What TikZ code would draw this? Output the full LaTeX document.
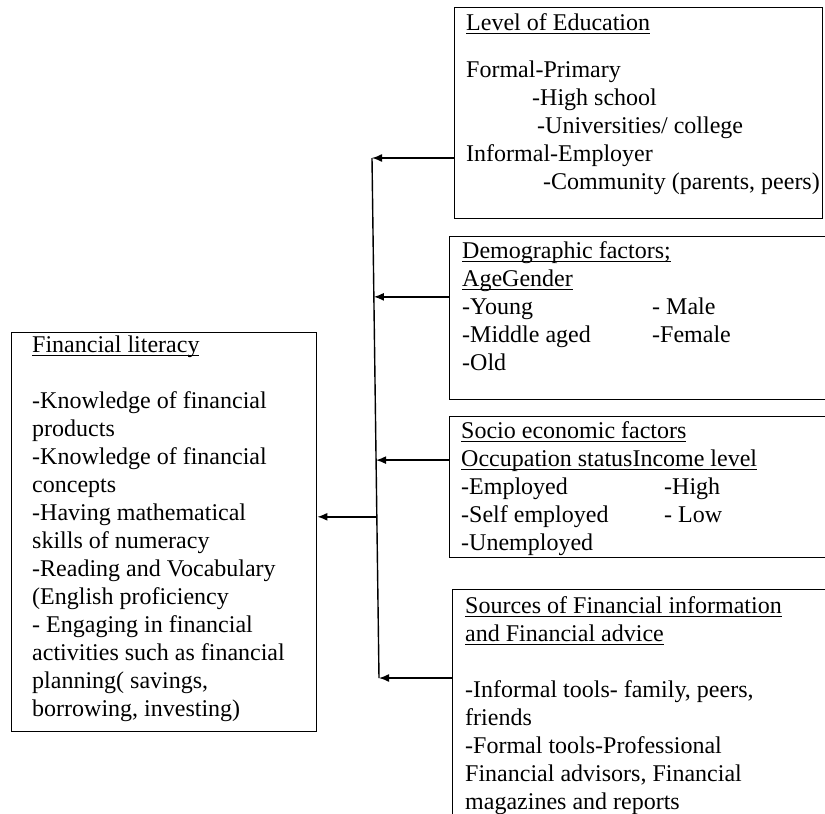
\documentclass[tikz,border=0pt]{standalone}
\usepackage{fontspec}
\setmainfont{Liberation Serif}
\usetikzlibrary{arrows.meta,calc}
\newcommand\hdr[1]{\setbox0\hbox{#1}\rlap{\rule[-3.5pt]{\wd0}{1.1pt}}\box0}
\tikzset{
  >={Latex[length=10pt,width=8pt]},
  box/.style={draw,line width=1.4pt,anchor=north west,inner sep=0pt},
  txt/.style={anchor=north west,inner sep=0pt,align=left,
    font=\fontsize{24}{28}\selectfont},
  link/.style={->,line width=1.4pt}
}
\begin{document}
\begin{tikzpicture}[x=1pt,y=-1pt]
	\useasboundingbox (0,0) rectangle (825,814);

	% the boxes
	\node[box,minimum width=368pt,minimum height=211pt] (edu) at (454,7) {};
	\node[box,minimum width=381pt,minimum height=163pt] (demo) at (449,236) {};
	\node[box,minimum width=381pt,minimum height=141pt] (socio) at (449,416) {};
	\node[box,minimum width=378pt,minimum height=241pt] (src) at (452,589) {};
	\node[box,minimum width=305pt,minimum height=399pt] (fin) at (11,332) {};

	% their texts
	\node[txt] (eduTxt) at (466,10.4) {\strut\hdr{Level of Education}\\[19pt]
	    Formal-Primary\\ \hspace*{66pt}-High school\\
	    \hspace*{71pt}-Universities/ college\\ Informal-Employer\\
	    \hspace*{77pt}-Community (parents, peers)};
	\node[txt] (demoTxt) at (462,238.4) {\strut\hdr{Demographic factors;}\\
	    \hdr{AgeGender}\\ \makebox[190pt][l]{-Young}- Male\\
	    \makebox[190pt][l]{-Middle aged}-Female\\ -Old};
	\node[txt] (socioTxt) at (461,418.4) {\strut\hdr{Socio economic factors}\\
	    \hdr{Occupation statusIncome level}\\ \makebox[203pt][l]{-Employed}-High\\
	    \makebox[203pt][l]{-Self employed}- Low\\ -Unemployed};
	\node[txt] (srcTxt) at (465,593.4) {\strut\hdr{Sources of Financial information}\\
	    \hdr{and Financial advice}\\[28pt] -Informal tools- family, peers,\\ friends\\
	    -Formal tools-Professional\\ Financial advisors, Financial\\
	    magazines and reports};
	\node[txt] (finTxt) at (32,332.4) {\strut\hdr{Financial literacy}\\[28pt]
	    -Knowledge of financial\\ products\\ -Knowledge of financial\\ concepts\\
	    -Having mathematical\\ skills of numeracy\\ -Reading and Vocabulary\\
	    (English proficiency\\ - Engaging in financial\\ activities such as financial\\
	    planning( savings,\\ borrowing, investing)};

	% the spine and the points on it
	\coordinate (top) at (372,158);
	\coordinate (bot) at (379,678);
	\coordinate (j2) at ($(top)!0.267!(bot)$);
	\coordinate (j3) at ($(top)!0.581!(bot)$);
	\coordinate (jf) at ($(top)!0.690!(bot)$);
	\draw[line width=1.4pt] (top) -- (bot);

	\draw[link] (edu.west |- top) -- (top);
	\draw[link] (demo.west |- j2) -- (j2);
	\draw[link] (socio.west |- j3) -- (j3);
	\draw[link] (src.west |- bot) -- (bot);
	\draw[link] (jf) -- (jf -| fin.east);
\end{tikzpicture}
\end{document}
